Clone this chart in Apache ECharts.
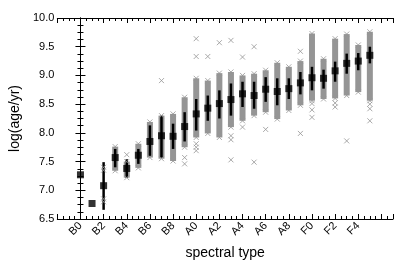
<!DOCTYPE html>
<html><head><meta charset="utf-8">
<script src="https://cdn.jsdelivr.net/npm/echarts@6/dist/echarts.min.js"></script>
<style>html,body{margin:0;padding:0;background:#fff}#c{width:407px;height:271px}</style>
</head><body><div id="c"></div>
<script>
// ---- data ----
const categories = ['B0','B1','B2','B3','B4','B5','B6','B7','B8','B9',
                    'A0','A1','A2','A3','A4','A5','A6','A7','A8','A9',
                    'F0','F1','F2','F3','F4','F5'];
const median = [7.27, 6.77, 7.08, 7.57, 7.38, 7.61, 7.85, 7.95, 7.94, 8.11,
                8.33, 8.43, 8.51, 8.58, 8.68, 8.65, 8.76, 8.72, 8.77, 8.87,
                8.96, 8.95, 9.08, 9.21, 9.25, 9.35];
const barLo = [null, null, 6.66, 7.40, 7.22, 7.46, 7.60, 7.57, 7.72, 7.85,
               8.04, 8.21, 8.25, 8.30, 8.45, 8.42, 8.54, 8.48, 8.59, 8.67,
               8.74, 8.77, 8.89, 9.03, 9.09, 9.21];
const barHi = [null, null, 7.49, 7.72, 7.54, 7.72, 8.13, 8.30, 8.16, 8.36,
               8.59, 8.65, 8.74, 8.86, 8.89, 8.89, 8.97, 8.95, 8.95, 9.06,
               9.15, 9.10, 9.24, 9.38, 9.39, 9.50];
const grayLo = [null, null, null, 7.34, 7.22, 7.39, 7.57, 7.55, 7.51, 7.75,
                7.92, 7.99, 7.92, 8.10, 8.21, 8.30, 8.36, 8.24, 8.39, 8.48,
                8.56, 8.59, 8.60, 8.65, 8.71, 8.56];
const grayHi = [null, null, null, 7.76, 7.50, 7.81, 8.19, 8.30, 8.33, 8.62,
                8.95, 8.91, 9.04, 9.06, 9.00, 9.03, 9.09, 9.22, 9.15, 9.25,
                9.73, 9.29, 9.64, 9.72, 9.53, 9.76];
// individual crosses: [category index, value]
const outliers = [[2,7.40],[2,7.35],[2,6.85],[2,6.80],[4,7.62],[7,8.91],
  [9,7.57],[9,7.46],[10,9.64],[10,9.33],[10,7.81],[10,7.75],[10,7.69],
  [11,9.33],[12,9.57],[13,9.61],[13,7.95],[13,7.88],[13,7.53],
  [14,9.32],[14,8.10],[15,9.50],[15,7.49],[16,8.06],[19,9.42],[19,7.99],
  [20,8.51],[20,8.40],[20,8.27],[22,8.52],[22,8.45],[23,7.86],
  [25,8.50],[25,8.42],[25,8.21]];
const yMin = 6.5, yMax = 10.0, yStep = 0.5, yMinorStep = 0.125;
const xMin = -2, xMax = 27, xStep = 2, xMinorStep = 0.5;

// ---- chart ----
const FONT = '"Liberation Sans", Arial, Helvetica, sans-serif';
const GRAY = '#959595';
const crossPath = 'path://M0,0L10,10M10,0L0,10';

function xAxisDef(pos, major, labels) {
  const a = {
    type: 'value', position: pos, min: xMin, max: xMax, gridIndex: 0,
    interval: major ? xStep : xMinorStep,
    axisLine: {show: major, lineStyle: {color: '#000', width: 1}},
    splitLine: {show: false},
    axisTick: {show: true, inside: true, length: major ? 5 : 3,
               lineStyle: {color: '#000', width: 1}},
    axisLabel: {show: false}
  };
  if (labels) {
    a.axisLabel = {
      show: true, rotate: 45, margin: 5,
      fontFamily: FONT, fontSize: 11, color: '#000',
      formatter: v => { const i = Math.round(v); return (i >= 0 && i <= 24) ? categories[i] : ''; }
    };
    a.name = 'spectral type'; a.nameLocation = 'middle'; a.nameGap = 27;
    a.nameTextStyle = {fontFamily: FONT, fontSize: 14, color: '#000'};
  }
  return a;
}
function yAxisDef(pos, major, labels) {
  const a = {
    type: 'value', position: pos, min: yMin, max: yMax,
    interval: major ? yStep : yMinorStep,
    axisLine: {show: major, lineStyle: {color: '#000', width: 1}},
    splitLine: {show: false},
    axisTick: {show: true, inside: true, length: major ? 5 : 3, lineStyle: {color: '#000'}},
    axisLabel: labels ? {show: true, margin: 3, fontFamily: FONT, fontSize: 11,
               color: '#000', formatter: v => v.toFixed(1)} : {show: false}
  };
  if (labels) {
    a.name = 'log(age/yr)'; a.nameLocation = 'middle'; a.nameGap = 34;
    a.nameTextStyle = {fontFamily: FONT, fontSize: 14, color: '#000'};
  }
  return a;
}

const bandData = [], endData = [], barData = [], medData = [];
categories.forEach((c, i) => {
  if (grayLo[i] != null) {
    bandData.push([i, grayLo[i], grayHi[i]]);
    endData.push([i, grayLo[i]], [i, grayHi[i]]);
  }
  if (barLo[i] != null) barData.push([i, barLo[i], barHi[i]]);
  medData.push([i, median[i]]);
});

const chart = echarts.init(document.getElementById('c'), null, {renderer: 'canvas'});
chart.setOption({
  animation: false,
  backgroundColor: '#fff',
  grid: {left: 57, right: 14, top: 18, bottom: 52},
  xAxis: [xAxisDef('bottom', true, true), xAxisDef('bottom', false, false),
          xAxisDef('top', true, false), xAxisDef('top', false, false)],
  yAxis: [yAxisDef('left', true, true), yAxisDef('left', false, false),
          yAxisDef('right', true, false), yAxisDef('right', false, false)],
  series: [
    {
      type: 'custom', silent: true, data: bandData, encode: {x: 0, y: [1, 2]},
      renderItem: (params, api) => {
        const x = api.value(0);
        const p1 = api.coord([x, api.value(1)]);
        const p2 = api.coord([x, api.value(2)]);
        const w = 6;
        return {type: 'rect', shape: {x: p1[0] - w / 2, y: p2[1], width: w, height: p1[1] - p2[1]},
                style: {fill: GRAY}};
      }
    },
    {
      type: 'scatter', silent: true, data: endData, symbol: crossPath, symbolSize: 5,
      itemStyle: {color: 'rgba(0,0,0,0)', borderColor: GRAY, borderWidth: 1}
    },
    {
      type: 'scatter', silent: true, data: outliers, symbol: crossPath, symbolSize: 5,
      itemStyle: {color: 'rgba(0,0,0,0)', borderColor: GRAY, borderWidth: 1}
    },
    {
      type: 'custom', silent: true, data: barData, encode: {x: 0, y: [1, 2]},
      renderItem: (params, api) => {
        const x = api.value(0);
        const p1 = api.coord([x, api.value(1)]);
        const p2 = api.coord([x, api.value(2)]);
        return {type: 'line', shape: {x1: p1[0], y1: p1[1], x2: p2[0], y2: p2[1]},
                style: {stroke: '#000', lineWidth: 2.5}};
      }
    },
    {
      type: 'scatter', silent: true, data: medData, symbol: 'rect', symbolSize: 7,
      itemStyle: {color: '#000'}
    }
  ]
});
</script></body></html>
